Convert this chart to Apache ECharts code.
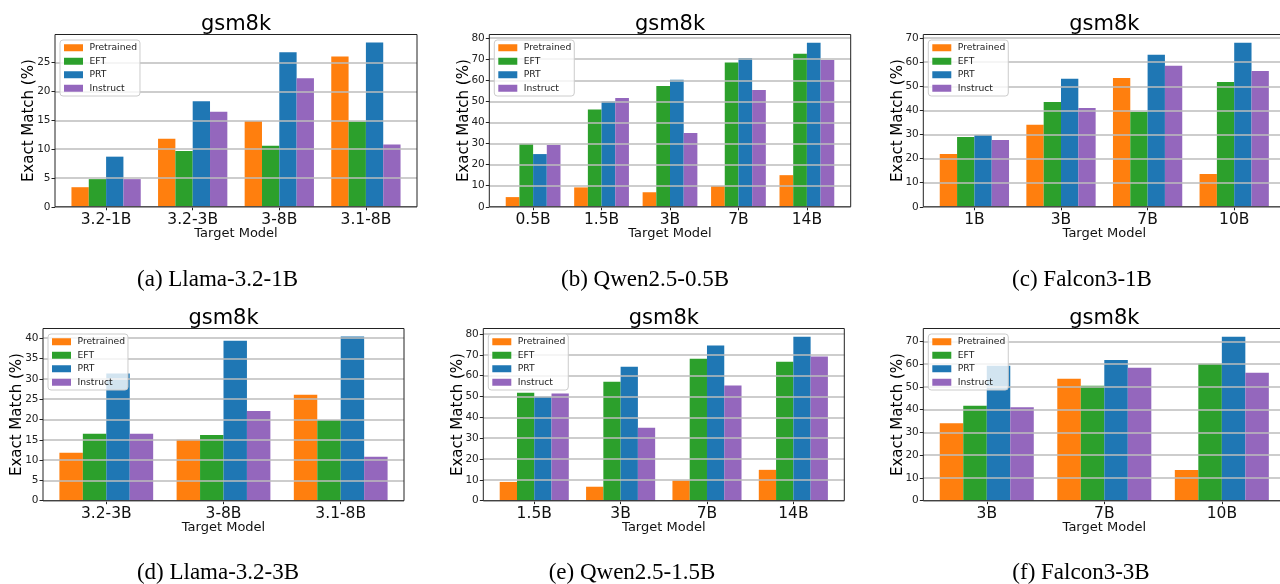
<!DOCTYPE html>
<html><head><meta charset="utf-8">
<script src="https://cdn.jsdelivr.net/npm/echarts@6/dist/echarts.min.js"></script>
<style>html,body{margin:0;padding:0;background:#fff}#c{width:1280px;height:584px}</style>
</head><body><div id="c"></div>
<script>
// ---------------- data ----------------
const seriesNames = ['Pretrained', 'EFT', 'PRT', 'Instruct'];
const titleText = 'gsm8k';
const xAxisTitle = 'Target Model';
const yAxisTitle = 'Exact Match (%)';

const catsA = ['3.2-1B', '3.2-3B', '3-8B', '3.1-8B'];
const pretrainedA = [3.4, 11.8, 14.9, 26.1];
const eftA = [4.8, 9.7, 10.6, 14.8];
const prtA = [8.7, 18.3, 26.8, 28.5];
const instructA = [4.8, 16.5, 22.3, 10.8];
const yTicksA = [0, 5, 10, 15, 20, 25];
const yMaxA = 29.9;
const captionA = '(a) Llama-3.2-1B';

const catsB = ['0.5B', '1.5B', '3B', '7B', '14B'];
const pretrainedB = [4.6, 9.2, 6.9, 9.9, 15.0];
const eftB = [29.9, 46.1, 57.3, 68.4, 72.6];
const prtB = [25.0, 49.9, 60.2, 70.5, 77.8];
const instructB = [29.3, 51.6, 35.0, 55.4, 69.6];
const yTicksB = [0, 10, 20, 30, 40, 50, 60, 70, 80];
const yMaxB = 81.7;
const captionB = '(b) Qwen2.5-0.5B';

const catsC = ['1B', '3B', '7B', '10B'];
const pretrainedC = [21.9, 34.0, 53.5, 13.6];
const eftC = [29.0, 43.5, 39.4, 51.8];
const prtC = [29.8, 53.1, 63.1, 68.1];
const instructC = [27.7, 41.0, 58.5, 56.4];
const yTicksC = [0, 10, 20, 30, 40, 50, 60, 70];
const yMaxC = 71.5;
const captionC = '(c) Falcon3-1B';

const catsD = ['3.2-3B', '3-8B', '3.1-8B'];
const pretrainedD = [11.8, 15.0, 26.1];
const eftD = [16.5, 16.2, 19.9];
const prtD = [31.3, 39.4, 40.4];
const instructD = [16.5, 22.1, 10.8];
const yTicksD = [0, 5, 10, 15, 20, 25, 30, 35, 40];
const yMaxD = 42.4;
const captionD = '(d) Llama-3.2-3B';

const catsE = ['1.5B', '3B', '7B', '14B'];
const pretrainedE = [9.0, 6.7, 9.7, 14.8];
const eftE = [51.8, 57.1, 68.1, 66.7];
const prtE = [49.9, 64.3, 74.4, 78.7];
const instructE = [51.4, 35.0, 55.3, 69.2];
const yTicksE = [0, 10, 20, 30, 40, 50, 60, 70, 80];
const yMaxE = 82.6;
const captionE = '(e) Qwen2.5-1.5B';

const catsF = ['3B', '7B', '10B'];
const pretrainedF = [34.1, 53.6, 13.5];
const eftF = [41.7, 50.5, 60.2];
const prtF = [59.3, 61.9, 72.1];
const instructF = [41.1, 58.4, 56.2];
const yTicksF = [0, 10, 20, 30, 40, 50, 60, 70];
const yMaxF = 75.7;
const captionF = '(f) Falcon3-3B';

// ---------------- layout / style ----------------
const FONT = 'DejaVu Sans';
const SERIF = 'Liberation Serif';
const colors = ['#ff7f0e', '#2ca02c', '#1f77b4', '#9467bd'];

const panels = [
  {cats: catsA, vals: [pretrainedA, eftA, prtA, instructA], ticks: yTicksA, ymax: yMaxA, caption: captionA},
  {cats: catsB, vals: [pretrainedB, eftB, prtB, instructB], ticks: yTicksB, ymax: yMaxB, caption: captionB},
  {cats: catsC, vals: [pretrainedC, eftC, prtC, instructC], ticks: yTicksC, ymax: yMaxC, caption: captionC},
  {cats: catsD, vals: [pretrainedD, eftD, prtD, instructD], ticks: yTicksD, ymax: yMaxD, caption: captionD},
  {cats: catsE, vals: [pretrainedE, eftE, prtE, instructE], ticks: yTicksE, ymax: yMaxE, caption: captionE},
  {cats: catsF, vals: [pretrainedF, eftF, prtF, instructF], ticks: yTicksF, ymax: yMaxF, caption: captionF}
];
const layout = [
  {L: 55,    W: 362,   T: 34.5,  H: 172.3, capX: 217.5, capY: 280},
  {L: 489.3, W: 361.4, T: 34.5,  H: 172.3, capX: 645,   capY: 280},
  {L: 923.3, W: 362,   T: 34.5,  H: 172.3, capX: 1082,  capY: 280},
  {L: 43,    W: 361,   T: 328.5, H: 172.2, capX: 218,   capY: 573},
  {L: 483.3, W: 361,   T: 328.5, H: 172.2, capX: 632,   capY: 573},
  {L: 923.3, W: 362,   T: 328.5, H: 172.2, capX: 1081,  capY: 573}
];

const grid = [], xAxis = [], yAxis = [], series = [], legend = [], graphic = [];

panels.forEach((p, i) => {
  const g = layout[i];
  const N = p.cats.length;
  const unit = g.W / (1.1 * (N - 0.2));
  const off = (0.1 * N - 0.22) / 2 * unit;
  grid.push({left: g.L, top: g.T, width: g.W, height: g.H, outerBoundsMode: 'none', containLabel: false});
  grid.push({left: g.L + off, top: g.T, width: N * unit, height: g.H, outerBoundsMode: 'none', containLabel: false});

  xAxis.push({type: 'value', gridIndex: 2 * i, show: false, min: 0, max: 1});
  xAxis.push({
    type: 'category', gridIndex: 2 * i + 1, data: p.cats,
    axisLine: {show: false},
    axisTick: {show: true, alignWithLabel: true, length: 3.5, lineStyle: {color: '#222', width: 1}},
    axisLabel: {fontSize: 15.5, color: '#111', margin: 5, fontFamily: FONT},
    splitLine: {show: false}
  });
  yAxis.push({
    type: 'value', gridIndex: 2 * i, min: 0, max: p.ymax, interval: p.ticks[1] - p.ticks[0], z: 5,
    axisLine: {show: false},
    axisTick: {show: true, length: 3.5, customValues: p.ticks, lineStyle: {color: '#222', width: 1}},
    axisLabel: {customValues: p.ticks, fontSize: 10.5, color: '#222', margin: 4.5, fontFamily: FONT},
    splitLine: {show: true, lineStyle: {color: '#bdbdbd', width: 1.5}}
  });
  yAxis.push({type: 'value', gridIndex: 2 * i + 1, min: 0, max: p.ymax, show: false, splitLine: {show: false}});

  p.vals.forEach((v, j) => {
    series.push({
      type: 'bar', name: seriesNames[j], xAxisIndex: 2 * i + 1, yAxisIndex: 2 * i + 1,
      data: v, barWidth: '20%', barGap: '0%', itemStyle: {color: colors[j]}, z: 2
    });
  });

  legend.push({
    left: g.L + 5, top: g.T + 5.5, orient: 'vertical', data: seriesNames, icon: 'rect',
    itemWidth: 19, itemHeight: 7, itemGap: 0, padding: [1, 3, 1, 4], selectedMode: false,
    backgroundColor: 'rgba(255,255,255,0.8)', borderColor: '#cccccc', borderWidth: 1, borderRadius: 3,
    textStyle: {fontSize: 9.2, color: '#222', lineHeight: 13.5, fontFamily: FONT, padding: [0, 0, 0, 1.5]}, z: 10
  });

  const cx = g.L + g.W / 2;
  graphic.push({type: 'rect', silent: true, z: 100,
    shape: {x: g.L, y: g.T, width: g.W, height: g.H},
    style: {fill: null, stroke: '#222', lineWidth: 1}});
  graphic.push({type: 'text', silent: true, z: 100, x: cx, y: g.T - 10.3,
    style: {text: titleText, font: '21px "' + FONT + '"', fill: '#000', textAlign: 'center', textVerticalAlign: 'middle', align: 'center', verticalAlign: 'middle'}});
  graphic.push({type: 'text', silent: true, z: 100, x: g.L - 25.5, y: g.T + g.H / 2, rotation: Math.PI / 2,
    style: {text: yAxisTitle, font: '15px "' + FONT + '"', fill: '#000', textAlign: 'center', textVerticalAlign: 'middle', align: 'center', verticalAlign: 'middle'}});
  graphic.push({type: 'text', silent: true, z: 100, x: cx, y: g.T + g.H + 27,
    style: {text: xAxisTitle, font: '13px "' + FONT + '"', fill: '#111', textAlign: 'center', textVerticalAlign: 'middle', align: 'center', verticalAlign: 'middle'}});
  graphic.push({type: 'text', silent: true, z: 100, x: g.capX, y: g.capY,
    style: {text: p.caption, font: '23px "' + SERIF + '"', fill: '#000', textAlign: 'center', textVerticalAlign: 'middle', align: 'center', verticalAlign: 'middle'}});
});

const chart = echarts.init(document.getElementById('c'), null, {renderer: 'canvas'});
chart.setOption({
  animation: false,
  backgroundColor: '#ffffff',
  grid, xAxis, yAxis, series, legend, graphic
});
</script>
</body></html>
